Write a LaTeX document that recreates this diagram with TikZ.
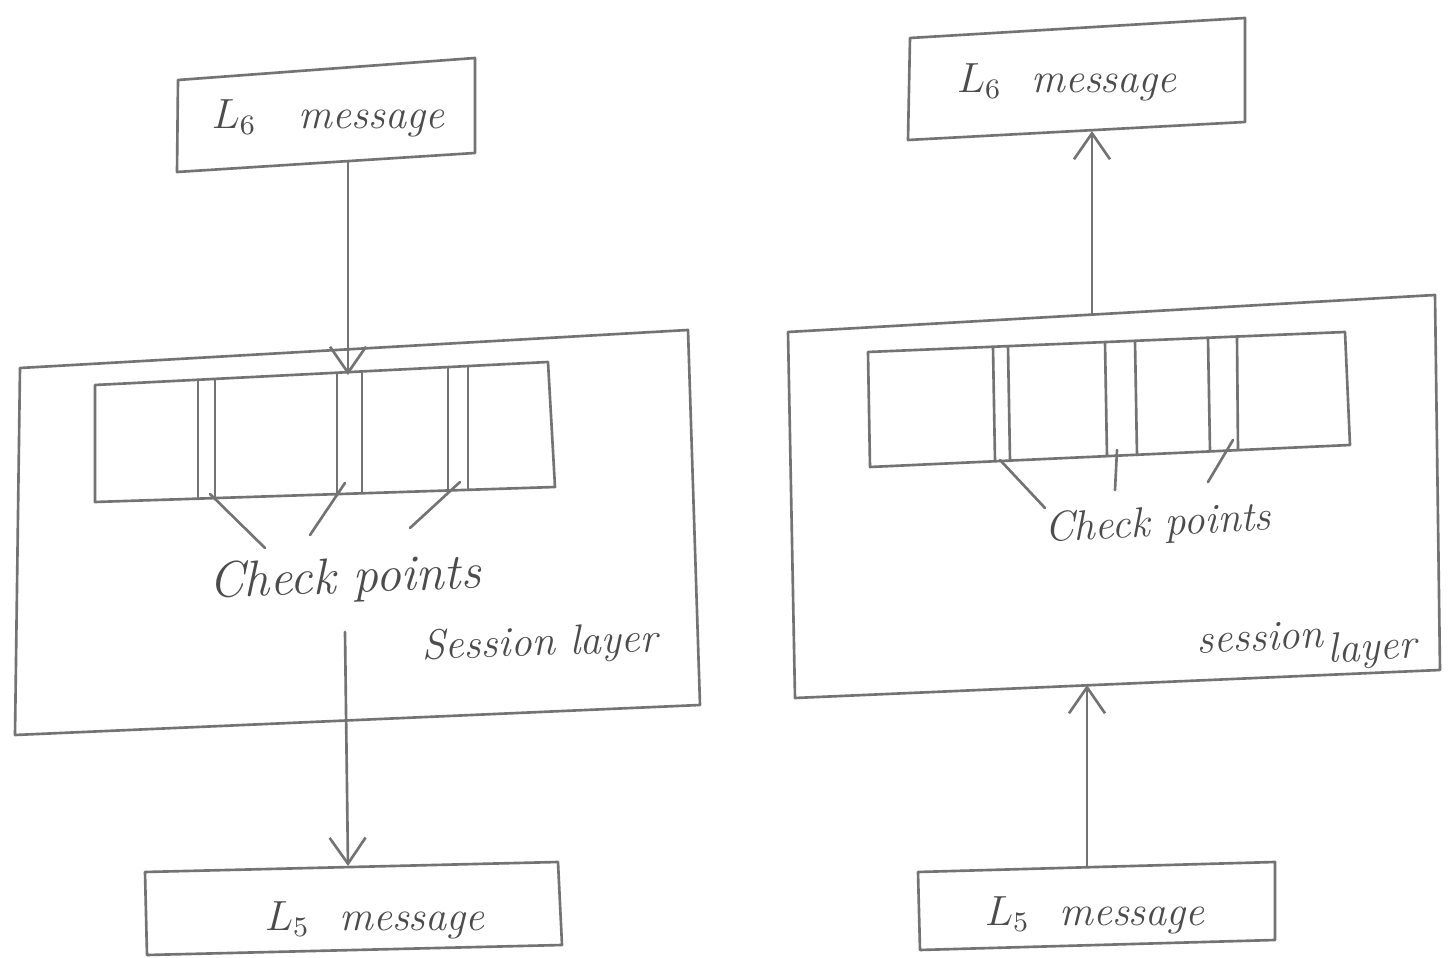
\documentclass[tikz,border=0pt]{standalone}
\usetikzlibrary{arrows.meta}
\begin{document}
\begin{tikzpicture}[x=0.1mm,y=-0.1mm,
  pen/.style={draw=black!55, line width=0.75pt, line join=round, line cap=round},
  arr/.style={pen, -{Straight Barb[length=2.6mm,width=3.6mm]}},
  lbl/.style={text=black!70, font=\large\itshape, inner sep=1pt},
  cp/.style={text=black!70, font=\Large\itshape, inner sep=1pt},
  cps/.style={text=black!70, font=\large\itshape, inner sep=1pt}]
\useasboundingbox (0,0) rectangle (1450,958);
\fill[white] (0,0) rectangle (1450,958);

% ================= LEFT =================
% L6 message box
\draw[pen] (178,80) -- (475,58) -- (475,153) -- (177,172) -- cycle;
\node[lbl] (l6L) at (328,118) {$L_6$\quad message};
% session layer outer box
\draw[pen] (20,368) -- (688,330) -- (700,705) -- (15,735) -- cycle;
% inner strip
\draw[pen] (95,385) -- (548,362) -- (555,487) -- (95,502) -- cycle;
\draw[pen] (198,380) -- (198,499);
\draw[pen] (215,379) -- (215,498);
\draw[pen] (337,373) -- (337,494);
\draw[pen] (362,371) -- (362,493);
\draw[pen] (448,367) -- (448,490);
\draw[pen] (468,366) -- (468,490);
% labels
\node[cp, rotate=2] (cpL) at (345,580) {Check points};
\node[lbl, rotate=2] (slL) at (540,645) {Session layer};
% checkpoint pointers
\coordinate (pL1) at (210,494);
\coordinate (pL2) at (345,483);
\coordinate (pL3) at (460,482);
\draw[pen] (pL1) -- (265,548);
\draw[pen] (pL2) -- (310,535);
\draw[pen] (pL3) -- (410,528);
% arrows
\coordinate (l6Lb) at (348,162);
\coordinate (stripLt) at (348,375);
\draw[arr] (l6Lb) -- (stripLt);
\coordinate (cpLb) at (345,632);
\coordinate (l5Lt) at (348,866);
\draw[arr] (cpLb) -- (l5Lt);
% L5 message box
\draw[pen] (145,872) -- (558,862) -- (562,945) -- (147,955) -- cycle;
\node[lbl] (l5L) at (375,920) {$L_5$\ \ message};

% ================= RIGHT =================
% L6 message box
\draw[pen] (910,38) -- (1245,18) -- (1245,122) -- (908,140) -- cycle;
\node[lbl] (l6R) at (1067,82) {$L_6$\ \ message};
% outer box
\draw[pen] (788,332) -- (1435,295) -- (1440,670) -- (795,698) -- cycle;
% inner strip
\draw[pen] (868,352) -- (1345,332) -- (1350,445) -- (870,467) -- cycle;
\draw[pen] (993,347) -- (995,461);
\draw[pen] (1008,346) -- (1010,461);
\draw[pen] (1105,342) -- (1107,456);
\draw[pen] (1135,341) -- (1137,455);
\draw[pen] (1208,338) -- (1210,451);
\draw[pen] (1237,337) -- (1238,450);
% labels
\node[cps, rotate=3] (cpR) at (1158,525) {Check points};
\node[lbl, rotate=3] (sesR) at (1260,637) {session};
\node[lbl, rotate=3] (layR) at (1372,650) {layer};
% checkpoint pointers
\coordinate (pR1) at (1000,460);
\coordinate (pR2) at (1117,450);
\coordinate (pR3) at (1233,440);
\draw[pen] (pR1) -- (1045,508);
\draw[pen] (pR2) -- (1115,490);
\draw[pen] (pR3) -- (1208,482);
% arrows
\coordinate (outRt) at (1092,315);
\coordinate (l6Rb) at (1092,131);
\draw[arr] (outRt) -- (l6Rb);
\coordinate (l5Rt) at (1087,867);
\coordinate (outRb) at (1087,685);
\draw[arr] (l5Rt) -- (outRb);
% L5 message box
\draw[pen] (918,872) -- (1275,862) -- (1275,940) -- (920,950) -- cycle;
\node[lbl] (l5R) at (1095,915) {$L_5$\ \ message};
\end{tikzpicture}
\end{document}
